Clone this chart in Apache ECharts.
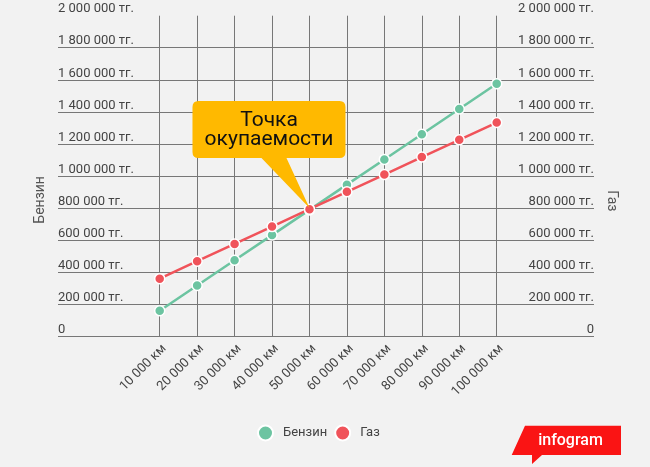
<!DOCTYPE html>
<html>
<head>
<meta charset="utf-8">
<script src="https://cdn.jsdelivr.net/npm/echarts@6/dist/echarts.min.js"></script>
<style>
html,body{margin:0;padding:0;background:#f2f2f2;}
#chart{width:650px;height:467px;}
</style>
</head>
<body>
<div id="chart"></div>
<script>
const categories = ['10 000 км','20 000 км','30 000 км','40 000 км','50 000 км','60 000 км','70 000 км','80 000 км','90 000 км','100 000 км'];
const petrol = [157500, 315000, 472500, 630000, 787500, 945000, 1102500, 1260000, 1417500, 1575000];
const gas = [358000, 467000, 575000, 683000, 792000, 900000, 1008000, 1117000, 1225000, 1333000];
const yTickLabels = ['0','200 000 тг.','400 000 тг.','600 000 тг.','800 000 тг.','1 000 000 тг.','1 200 000 тг.','1 400 000 тг.','1 600 000 тг.','1 800 000 тг.','2 000 000 тг.'];
const yStep = 200000;
const yMax = 2000000;
const seriesNames = ['Бензин', 'Газ'];
const calloutText = 'Точка\nокупаемости';
const calloutAt = ['50 000 км', 800000];

const GREEN = '#6cc4a1';
const RED = '#f0535a';
const GRID = '#777777';
const LABEL = '#444444';
const FONT = 'Roboto, "Noto Sans", sans-serif';

const splitColors = yTickLabels.map((_, i) => i === yTickLabels.length - 1 ? 'rgba(0,0,0,0)' : GRID);

const yLabel = {
  inside: true,
  margin: 0,
  verticalAlign: 'bottom',
  padding: [0, 0, 0, 0],
  color: LABEL,
  fontSize: 13,
  fontFamily: FONT,
  formatter: v => yTickLabels[Math.round(v / yStep)]
};

const chart = echarts.init(document.getElementById('chart'), null, {renderer: 'canvas'});
chart.setOption({
  backgroundColor: '#f2f2f2',
  animation: false,
  textStyle: {fontFamily: FONT},
  grid: [
    {left: 58, right: 56, top: 15.7, bottom: 131},
    {left: 159.7, right: 153.3, top: 15.7, bottom: 131}
  ],
  xAxis: [
    {gridIndex: 0, type: 'value', min: 0, max: 1, show: false},
    {
      gridIndex: 1, type: 'category', data: categories, boundaryGap: false,
      axisLine: {show: false}, axisTick: {show: false},
      splitLine: {show: true, lineStyle: {color: GRID, width: 1}},
      axisLabel: {rotate: 45, interval: 0, margin: 6, verticalAlign: 'top', color: LABEL, fontSize: 13, fontFamily: FONT}
    }
  ],
  yAxis: [
    {
      gridIndex: 0, type: 'value', min: 0, max: yMax, interval: yStep, position: 'left',
      name: seriesNames[0], nameLocation: 'middle', nameGap: 10, nameRotate: 90,
      nameTextStyle: {color: '#555', fontSize: 14, fontFamily: FONT, padding: [0, 48, 0, 0]},
      axisLine: {show: false}, axisTick: {show: false},
      axisLabel: yLabel,
      splitLine: {show: true, lineStyle: {color: splitColors, width: 1}}
    },
    {
      gridIndex: 0, type: 'value', min: 0, max: yMax, interval: yStep, position: 'right',
      name: seriesNames[1], nameLocation: 'middle', nameGap: 10, nameRotate: -90,
      nameTextStyle: {color: '#555', fontSize: 14, fontFamily: FONT, padding: [0, 0, 0, 50]},
      axisLine: {show: false}, axisTick: {show: false},
      axisLabel: yLabel,
      splitLine: {show: false}
    },
    {gridIndex: 1, type: 'value', min: 0, max: yMax, show: false}
  ],
  legend: {
    data: seriesNames,
    left: 257,
    top: 424.5,
    padding: 0,
    icon: 'circle',
    itemWidth: 25,
    itemHeight: 15,
    itemGap: 7,
    textStyle: {color: LABEL, fontSize: 13, fontFamily: FONT}
  },
  series: [
    {
      name: seriesNames[0], type: 'line', xAxisIndex: 1, yAxisIndex: 2, data: petrol,
      color: GREEN, symbol: 'circle', symbolSize: 10, showAllSymbol: true,
      lineStyle: {width: 2.5, color: GREEN},
      itemStyle: {color: GREEN, borderColor: '#fff', borderWidth: 1.5},
      markPoint: {
        silent: true,
        symbol: 'path://M6 0 H147 Q153 0 153 6 V51 Q153 57 147 57 H94 L117 107 L69 57 H6 Q0 57 0 51 V6 Q0 0 6 0 Z',
        symbolSize: [153, 107],
        symbolOffset: [-40.5, -53.5],
        itemStyle: {color: '#ffb900'},
        label: {
          show: true, position: 'inside', offset: [0, -24],
          formatter: calloutText, color: '#111', fontSize: 21, lineHeight: 19, fontFamily: FONT
        },
        data: [{coord: calloutAt}]
      }
    },
    {
      name: seriesNames[1], type: 'line', xAxisIndex: 1, yAxisIndex: 2, data: gas,
      color: RED, symbol: 'circle', symbolSize: 10, showAllSymbol: true,
      lineStyle: {width: 2.5, color: RED},
      itemStyle: {color: RED, borderColor: '#fff', borderWidth: 1.5}
    }
  ],
  graphic: [
    {
      type: 'polygon', silent: true,
      shape: {points: [[525, 425.7], [621, 425.7], [621, 455], [542, 455], [532, 464], [532, 455], [511.7, 455]]},
      style: {fill: '#fa1414'}
    },
    {
      type: 'text', silent: true, x: 570.5, y: 440.5,
      style: {text: 'infogram', fill: '#fff', fontSize: 16, fontWeight: 500, fontFamily: FONT, align: 'center', verticalAlign: 'middle'}
    }
  ]
});
</script>
</body>
</html>
